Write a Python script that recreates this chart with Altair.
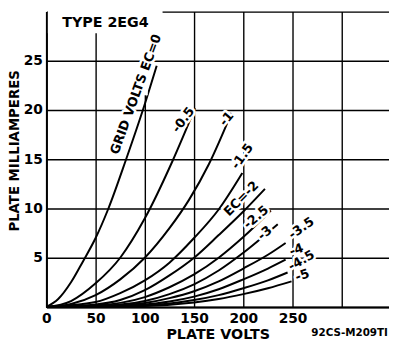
import altair as alt
import pandas as pd

FONT = "DejaVu Sans"

# ---- data: plate volts (v_*) and plate milliamperes (i_*) for each grid voltage ----
ec_names = ["0", "-0.5", "-1", "-1.5", "-2", "-2.5", "-3", "-3.5", "-4", "-4.5", "-5"]

v_0 = [0, 12, 25, 37, 50, 63, 81, 98, 112]
i_0 = [0, 0.8, 2.5, 4.6, 7.0, 10.0, 15.0, 20.0, 24.5]
v_05 = [0, 25, 50, 75, 100, 128, 151]
i_05 = [0, 0.6, 2.4, 5.0, 9.0, 14.8, 20.2]
v_1 = [0, 25, 50, 75, 100, 125, 145, 165, 188]
i_1 = [0, 0.3, 1.2, 2.8, 5.0, 8.0, 10.9, 14.5, 19.7]
v_15 = [0, 50, 75, 100, 125, 150, 175, 199]
i_15 = [0, 0.5, 1.4, 2.7, 4.5, 7.0, 9.9, 13.6]
v_2 = [0, 50, 75, 100, 125, 150, 175, 200, 222]
i_2 = [0, 0.25, 0.7, 1.7, 3.2, 5.0, 7.3, 9.7, 12.0]
v_25 = [0, 50, 100, 125, 150, 175, 200, 228]
i_25 = [0, 0.15, 1.0, 2.0, 3.3, 5.0, 7.1, 9.8]
v_3 = [0, 50, 100, 125, 150, 175, 200, 235]
i_3 = [0, 0.08, 0.6, 1.3, 2.3, 3.7, 5.5, 8.4]
v_35 = [0, 75, 100, 125, 150, 175, 200, 225, 243]
i_35 = [0, 0.15, 0.4, 0.9, 1.6, 2.6, 3.9, 5.3, 6.5]
v_4 = [0, 100, 125, 150, 175, 200, 225, 243]
i_4 = [0, 0.25, 0.55, 1.05, 1.8, 2.8, 3.9, 4.8]
v_45 = [0, 100, 150, 175, 200, 225, 245]
i_45 = [0, 0.15, 0.7, 1.2, 1.9, 2.7, 3.5]
v_5 = [0, 100, 150, 175, 200, 225, 249]
i_5 = [0, 0.1, 0.45, 0.8, 1.3, 1.9, 2.6]

curve_v = [v_0, v_05, v_1, v_15, v_2, v_25, v_3, v_35, v_4, v_45, v_5]
curve_i = [i_0, i_05, i_1, i_15, i_2, i_25, i_3, i_35, i_4, i_45, i_5]

# curve labels (text, plate volts, plate mA, rotation)
lab_text = ["GRID VOLTS EC=0", "-0.5", "-1", "-1.5", "EC=-2", "-2.5", "-3",
            "-3.5", "-4", "-4.5", "-5"]
lab_v = [91, 139, 183, 199, 198, 213, 222, 259, 254, 259, 260]
lab_i = [21.6, 19.0, 19.1, 15.3, 11.0, 9.1, 7.5, 8.0, 5.8, 4.7, 3.2]
lab_angle = [290, 307, 310, 305, 315, 320, 320, 325, 340, 330, 340]

x_ticks = [0, 50, 100, 150, 200, 250, 300]
y_ticks = [0, 5, 10, 15, 20, 25, 30]

# ---- build tables ----
rows = []
for name, vs, ims in zip(ec_names, curve_v, curve_i):
    for v, i in zip(vs, ims):
        rows.append({"ec": name, "v": v, "i": i})
curves = pd.DataFrame(rows)
labels = pd.DataFrame({"t": lab_text, "v": lab_v, "i": lab_i, "a": lab_angle})

V_MAX = 348
x_scale = alt.Scale(domain=[0, V_MAX], nice=False, zero=False)
y_scale = alt.Scale(domain=[0, 30], nice=False, zero=False)

x_axis = alt.Axis(
    values=x_ticks, labelExpr="datum.value <= 250 ? datum.label : ''",
    grid=True, gridColor="black", gridOpacity=1, gridWidth=1.4,
    ticks=False, domain=True, domainColor="black", domainWidth=2,
    labelFont=FONT, labelFontSize=14, labelFontWeight="bold", labelColor="black",
    labelPadding=5, labelFlush=False, labelOverlap=False,
    title="PLATE VOLTS", titleFont=FONT, titleFontSize=14.5, titleFontWeight="bold",
    titleColor="black", titlePadding=2,
)
y_axis = alt.Axis(
    values=y_ticks, labelExpr="datum.value > 0 && datum.value < 30 ? datum.label : ''",
    grid=True, gridColor="black", gridOpacity=1, gridWidth=1.4,
    ticks=False, domain=True, domainColor="black", domainWidth=2,
    labelFont=FONT, labelFontSize=14, labelFontWeight="bold", labelColor="black",
    labelPadding=4, labelFlush=False, labelOverlap=False,
    title="PLATE MILLIAMPERES", titleFont=FONT, titleFontSize=13.5, titleFontWeight="bold",
    titleColor="black", titleX=-32, titleY=141, titleBaseline="middle",
)

lines = alt.Chart(curves).mark_line(
    color="black", strokeWidth=2, interpolate="monotone"
).encode(
    x=alt.X("v:Q", scale=x_scale, axis=x_axis),
    y=alt.Y("i:Q", scale=y_scale, axis=y_axis),
    detail="ec:N",
    order="v:Q",
)

mask_df = pd.DataFrame({"x1": [1.5, 97], "x2": [118, 103], "y1": [27.8, 21.5], "y2": [30.3, 28.0]})
mask = alt.Chart(mask_df).mark_rect(color="white").encode(
    x=alt.X("x1:Q", scale=x_scale), x2="x2:Q",
    y=alt.Y("y1:Q", scale=y_scale), y2="y2:Q",
)

def text_layer(halo):
    kw = dict(font=FONT, fontSize=13, fontWeight="bold", align="center", baseline="middle")
    if halo:
        kw.update(color="white", stroke="white", strokeWidth=5, strokeJoin="round")
    else:
        kw.update(color="black")
    return alt.Chart(labels).mark_text(**kw).encode(
        x=alt.X("v:Q", scale=x_scale),
        y=alt.Y("i:Q", scale=y_scale),
        text="t:N",
        angle=alt.Angle("a:Q", scale=None),
    )

title_df = pd.DataFrame({"t": ["TYPE 2EG4"], "v": [16], "i": [28.8]})
title_halo = alt.Chart(title_df).mark_text(
    font=FONT, fontSize=14.5, fontWeight="bold", align="left", baseline="middle",
    color="white", stroke="white", strokeWidth=5
).encode(x=alt.X("v:Q", scale=x_scale), y=alt.Y("i:Q", scale=y_scale), text="t:N")
title_txt = alt.Chart(title_df).mark_text(
    font=FONT, fontSize=14.5, fontWeight="bold", align="left", baseline="middle", color="black"
).encode(x=alt.X("v:Q", scale=x_scale), y=alt.Y("i:Q", scale=y_scale), text="t:N")

code_df = pd.DataFrame({"t": ["92CS-M209TI"], "v": [308]})
code_txt = alt.Chart(code_df).mark_text(
    font=FONT, fontSize=10.5, fontWeight="bold", align="center", baseline="middle", color="black"
).encode(x=alt.X("v:Q", scale=x_scale), y=alt.value(327), text="t:N")

chart = alt.layer(
    lines, mask, text_layer(True), text_layer(False), title_halo, title_txt, code_txt
).properties(
    width=V_MAX, height=300,
    autosize=alt.AutoSizeParams(type="none"),
    padding={"left": 39, "top": 1, "right": 0, "bottom": 36},
).configure_view(stroke=None).configure(background="white")

chart.save("out.html", embed_options={"renderer": "svg", "actions": False})
